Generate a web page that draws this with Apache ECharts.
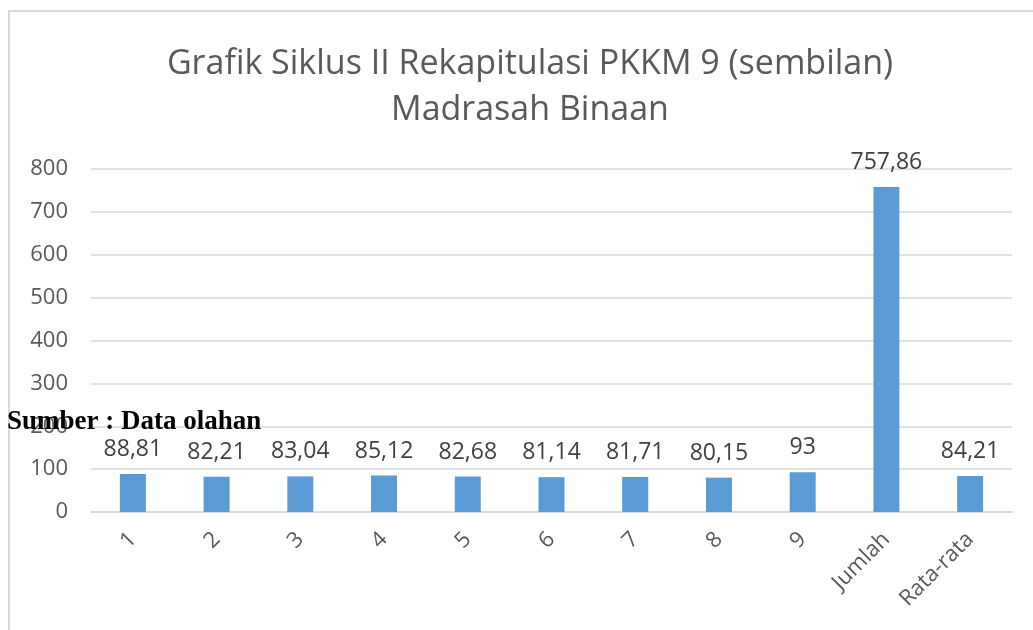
<!DOCTYPE html>
<html>
<head>
<meta charset="utf-8">
<script src="https://cdn.jsdelivr.net/npm/echarts@6/dist/echarts.min.js"></script>
<style>
  html, body { margin: 0; padding: 0; background: #fff; }
  #chart { width: 1033px; height: 630px; }
</style>
</head>
<body>
<div id="chart"></div>
<script>
const categories = ['1', '2', '3', '4', '5', '6', '7', '8', '9', 'Jumlah', 'Rata-rata'];
const values = [88.81, 82.21, 83.04, 85.12, 82.68, 81.14, 81.71, 80.15, 93, 757.86, 84.21];
const yTicks = [0, 800, 100];

const myChart = echarts.init(document.getElementById('chart'));
const fontFam = '"Open Sans", "Noto Sans", sans-serif';

const option = {
    backgroundColor: '#fff',
    animation: false,
    title: {
        text: 'Grafik Siklus II Rekapitulasi PKKM 9 (sembilan)\nMadrasah Binaan',
        left: 525,
        top: 36,
        textAlign: 'center',
        textStyle: {
            fontFamily: fontFam,
            fontSize: 34,
            fontWeight: 'normal',
            color: '#595959',
            lineHeight: 46
        }
    },
    graphic: [
        {
            type: 'rect',
            shape: {x: 9, y: 11, width: 1100, height: 700},
            style: {fill: 'none', stroke: '#d9d9d9', lineWidth: 2}
        },
        {
            type: 'text',
            left: 7,
            top: 409,
            z: 100,
            style: {
                text: 'Sumber : Data olahan',
                font: 'bold 27px "Liberation Serif", "Times New Roman", serif',
                fill: '#000'
            }
        }
    ],
    grid: {
        left: 91,
        right: 21,
        top: 169,
        bottom: 118
    },
    xAxis: {
        type: 'category',
        data: categories,
        axisLine: {lineStyle: {color: '#d9d9d9', width: 1.5}},
        axisTick: {show: false},
        axisLabel: {
            rotate: 45,
            margin: 24,
            interval: 0,
            fontFamily: fontFam,
            fontSize: 22,
            color: '#595959'
        }
    },
    yAxis: {
        type: 'value',
        min: yTicks[0],
        max: yTicks[1],
        interval: yTicks[2],
        axisLine: {show: false},
        axisTick: {show: false},
        splitLine: {lineStyle: {color: '#d9d9d9', width: 1.5}},
        axisLabel: {
            margin: 23,
            fontFamily: fontFam,
            fontSize: 22,
            color: '#595959'
        }
    },
    series: [{
        type: 'bar',
        data: values,
        barWidth: 26,
        itemStyle: {color: '#5b9bd5'},
        label: {
            show: true,
            position: 'top',
            distance: 13,
            fontFamily: fontFam,
            fontSize: 23,
            color: '#404040',
            formatter: p => String(p.value).replace('.', ',')
        }
    }]
};
myChart.setOption(option);
</script>
</body>
</html>
